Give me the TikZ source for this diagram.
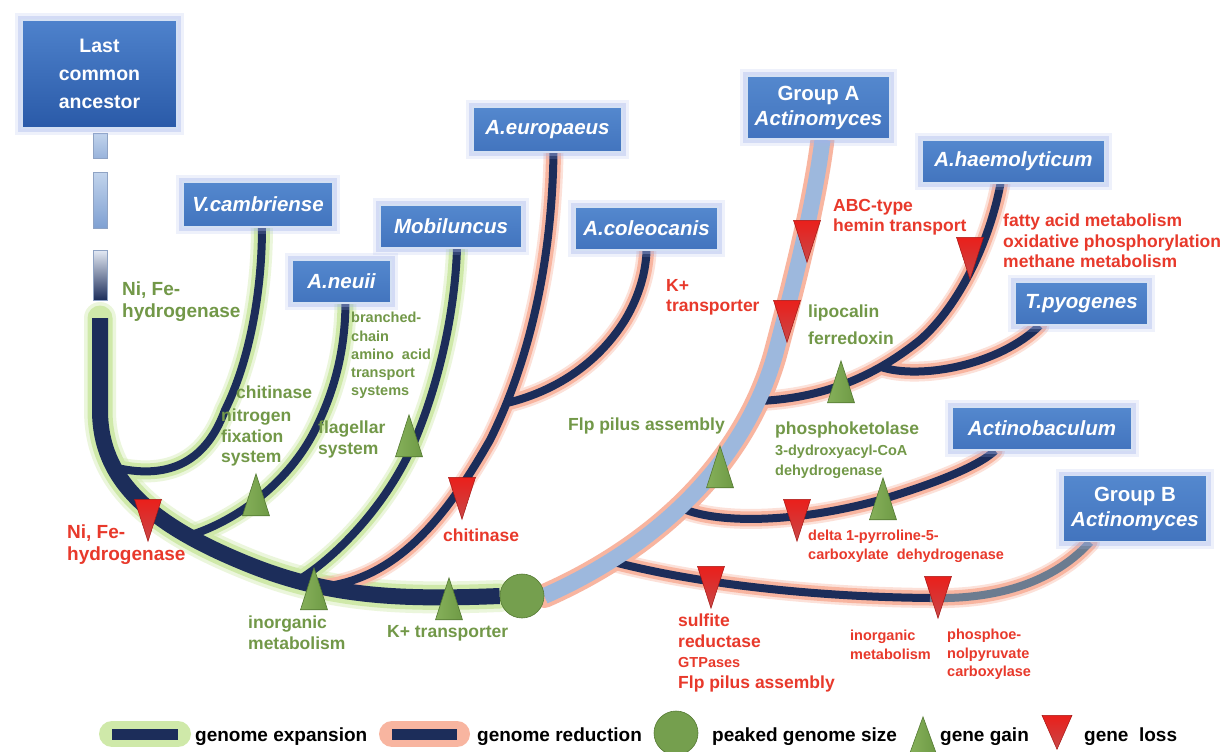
\documentclass[tikz,border=0pt]{standalone}
\usepackage{fontspec}
\setmainfont{Liberation Sans}
\usetikzlibrary{shapes.geometric}

\definecolor{trunkblue}{HTML}{1C2D5A}
\definecolor{slate}{HTML}{6C7C90}
\definecolor{glowgreen}{HTML}{CFE9A9}
\definecolor{glowred}{HTML}{F8B5A0}
\definecolor{grpAblue}{HTML}{9DB8DD}
\definecolor{boxtop}{HTML}{5488CE}
\definecolor{boxbot}{HTML}{4274BE}
\definecolor{boxedge}{HTML}{D4E0F3}
\definecolor{boxglow}{HTML}{A3B4EC}
\definecolor{lcatop}{HTML}{4E82CC}
\definecolor{lcabot}{HTML}{2A5AA8}
\definecolor{stemA}{HTML}{C2D4EC}
\definecolor{stemB}{HTML}{7FA0D2}
\definecolor{stemC}{HTML}{E4EAF4}
\definecolor{stemedge}{HTML}{8FA3C4}
\definecolor{gaingreen}{HTML}{6E9A45}
\definecolor{gainlight}{HTML}{86B05A}
\definecolor{gainedge}{HTML}{557A33}
\definecolor{lossred}{HTML}{EA1F1B}
\definecolor{losslow}{HTML}{C84848}
\definecolor{txtgreen}{HTML}{729848}
\definecolor{txtred}{HTML}{E8392B}

\pgfdeclarelayer{front}
\pgfsetlayers{main,front}

\newcommand{\boxfont}{\fontsize{20.5}{25}\selectfont\bfseries}
\newcommand{\labfont}{\fontsize{17.5}{20.5}\selectfont\bfseries}
\newcommand{\bigfont}{\fontsize{19}{22}\selectfont\bfseries}
\newcommand{\smfont}{\fontsize{14.5}{18.3}\selectfont\bfseries}

\begin{document}
\begin{tikzpicture}[x=1pt,y=-1pt]
\tikzstyle{taxon}=[rectangle, draw=boxedge, line width=1.2pt, top color=boxtop, bottom color=boxbot, text=white, font=\boxfont\itshape, align=center, minimum height=43pt, inner sep=1pt, preaction={draw=boxglow, line width=14pt, opacity=.18, rounded corners=3pt}, preaction={draw=boxglow, line width=8pt, opacity=.35}]
\tikzstyle{gain}=[isosceles triangle, shape border rotate=90, isosceles triangle stretches, minimum width=27pt, minimum height=42pt, inner sep=0pt, anchor=apex, draw=gainedge, line width=.6pt, left color=gainlight, right color=gaingreen]
\tikzstyle{loss}=[isosceles triangle, shape border rotate=-90, isosceles triangle stretches, minimum width=27pt, minimum height=42pt, inner sep=0pt, anchor=apex, draw=lossred!70!black, line width=.5pt, top color=lossred, bottom color=losslow]
\tikzstyle{peaked}=[circle, minimum size=44pt, inner sep=0pt, fill=gaingreen!95!white, draw=gainedge, line width=.6pt]
\tikzstyle{gtext}=[text=txtgreen, font=\labfont, align=left, anchor=north west, inner sep=0pt]
\tikzstyle{rtext}=[text=txtred, font=\labfont, align=left, anchor=north west, inner sep=0pt]
\tikzstyle{legtext}=[font=\bigfont, anchor=base west, inner sep=0pt]
\tikzstyle{gglow}=[draw=glowgreen, line cap=round]
\tikzstyle{rglow}=[draw=glowred, line cap=round]
\tikzstyle{stemseg}=[draw=stemedge, line width=.6pt]

\useasboundingbox (0,0) rectangle (1226,752);
\fill[white] (0,0) rectangle (1226,752);

% taxa
\begin{pgfonlayer}{front}
\node[taxon, font=\fontsize{19.5}{28}\selectfont\bfseries, top color=lcatop, bottom color=lcabot, minimum width=155pt, minimum height=108pt] (lca) at (99.5,74) {Last\\common\\ancestor};
\node[taxon, minimum width=150pt, minimum height=45pt] (vcam) at (258,204.5) {V.cambriense};
\node[taxon, minimum width=99pt] (neuii) at (341.5,281.5) {A.neuii};
\node[taxon, minimum width=142pt] (mobil) at (451,226.5) {Mobiluncus};
\node[taxon, minimum width=149pt, minimum height=45pt] (europ) at (547.5,129.5) {A.europaeus};
\node[taxon, minimum width=143pt] (coleo) at (646.5,228.5) {A.coleocanis};
\node[taxon, minimum width=143pt, minimum height=63pt] (grpA) at (818.5,107.5) {\upshape Group A\\Actinomyces};
\node[taxon, minimum width=183pt] (haemo) at (1013.5,161.5) {A.haemolyticum};
\node[taxon, minimum width=133pt] (tpyo) at (1081.5,303.5) {T.pyogenes};
\node[taxon, minimum width=180pt] (actb) at (1042,428.5) {Actinobaculum};
\node[taxon, minimum width=144pt, minimum height=66pt] (grpB) at (1135,508.5) {\upshape Group B\\Actinomyces};
\node[peaked] (peak) at (522,596) {};
\end{pgfonlayer}

% stem below the ancestor
\draw[stemseg, top color=stemA, bottom color=stemB!80!white] (93,133) rectangle (107,158);
\draw[stemseg, top color=stemA, bottom color=stemB] (93,172) rectangle (107,228);
\draw[stemseg, top color=stemC, bottom color=trunkblue] (93,250) rectangle (107,300);

\coordinate (trS) at (100,318);
\coordinate (jV) at (113,467);
\coordinate (jN) at (188,536);
\coordinate (jM) at (297,581);
\coordinate (jE) at (320,587);
\coordinate (jC) at (507,403);
\coordinate (jB) at (610,561);
\coordinate (jAb) at (681,508);
\coordinate (jH) at (759,401);
\coordinate (jT) at (881,367);
\coordinate (gbMid) at (930,598);

\def\pTrunk{(trS) -- (100,410) .. controls (100,480) and (150,525) .. (250,565) .. controls (330,597) and (400,600) .. (peak.west)}
\def\pVcam{(jV) .. controls (165,480) and (205,465) .. (225,410) .. controls (250,360) and (262,290) .. ([xshift=4pt]vcam.south)}
\def\pNeuii{(jN) .. controls (240,520) and (290,480) .. (315,430) .. controls (335,390) and (345,350) .. ([xshift=4pt]neuii.south)}
\def\pMobil{(jM) .. controls (340,555) and (390,500) .. (415,440) .. controls (440,380) and (455,310) .. ([xshift=6pt]mobil.south)}
\def\pEurop{(jE) .. controls (400,580) and (450,510) .. (490,440) .. controls (530,360) and (552,260) .. ([xshift=6pt]europ.south)}
\def\pColeo{(jC) .. controls (560,390) and (600,360) .. (625,320) .. controls (640,295) and (646,270) .. (coleo.south)}
\def\pGrpA{(peak.east) .. controls (660,545) and (745,460) .. (775,355) .. controls (795,280) and (815,200) .. ([xshift=4pt]grpA.south)}
\def\pHaemo{(jH) .. controls (830,398) and (880,372) .. (920,340) .. controls (960,305) and (990,240) .. ([xshift=-13pt]haemo.south)}
\def\pTpyo{(jT) .. controls (920,380) and (1000,365) .. ([xshift=-42pt]tpyo.south)}
\def\pActb{(jAb) .. controls (720,525) and (800,522) .. (880,500) .. controls (940,482) and (980,465) .. ([xshift=-47pt]actb.south)}
\def\pGrpBa{(jB) .. controls (700,585) and (820,597) .. (gbMid)}
\def\pGrpBb{(gbMid) .. controls (1010,600) and (1060,575) .. ([xshift=-45pt]grpB.south)}

% glows
\draw[gglow, line width=32pt, opacity=.4] \pTrunk;
\draw[gglow, line width=25pt] \pTrunk;
\draw[gglow, line width=22pt, opacity=.4] \pVcam \pNeuii \pMobil;
\draw[gglow, line width=16pt] \pVcam \pNeuii \pMobil;
\draw[rglow, line width=20pt, opacity=.4] \pEurop \pColeo \pHaemo \pTpyo \pActb \pGrpBa \pGrpBb;
\draw[rglow, line width=15pt] \pEurop \pColeo \pHaemo \pTpyo \pActb \pGrpBa \pGrpBb;
\draw[rglow, line width=24pt] \pGrpA;

% branches
\draw[trunkblue, line width=8pt] \pVcam \pNeuii \pMobil \pColeo \pEurop;
\draw[trunkblue, line width=16pt] \pTrunk;
\draw[trunkblue, line width=8pt] \pHaemo \pTpyo \pActb \pGrpBa;
\draw[slate, line width=8pt] \pGrpBb;
\draw[grpAblue, line width=16pt] \pGrpA;

% gene loss / gain
\node[loss] (lNiFe) at (148,542) {};
\node[loss] (lChit) at (462,520) {};
\node[loss] (lABC) at (807,263) {};
\node[loss] (lK) at (787,343) {};
\node[loss] (lFatty) at (970,280) {};
\node[loss] (lDelta) at (797,542) {};
\node[loss] (lSulf) at (711,609) {};
\node[loss] (lPhos) at (938,619) {};
\node[gain] (gNeuii) at (256,473) {};
\node[gain] (gMobil) at (409,414) {};
\node[gain] (gInorg) at (314,567) {};
\node[gain] (gK) at (449,577) {};
\node[gain] (gFlp) at (720,445) {};
\node[gain] (gLipo) at (841,360) {};
\node[gain] (gPhos) at (883,477) {};

% labels
\node[gtext, font=\bigfont] (tNiFeG) at (122,282) {Ni, Fe-\\hydrogenase};
\node[gtext] (tChitG) at (236,386) {chitinase};
\node[gtext] (tNitro) at (221,409) {nitrogen\\fixation\\system};
\node[gtext, font=\smfont] (tBranch) at (351,312) {branched-\\chain\\amino\ \ acid\\transport\\systems};
\node[gtext] (tFlag) at (318,421) {flagellar\\system};
\node[gtext] (tInorgG) at (248,616) {inorganic\\metabolism};
\node[gtext] (tKG) at (387,625) {K+ transporter};
\node[gtext] (tFlpG) at (568,418) {Flp pilus assembly};
\node[gtext, font=\fontsize{17.5}{27}\selectfont\bfseries] (tLipo) at (808,305) {lipocalin\\ferredoxin};
\node[gtext] (tPhosG) at (775,422) {phosphoketolase\\{\smfont 3-dydroxyacyl-CoA}\\{\smfont dehydrogenase}};

\node[rtext, font=\bigfont] (tNiFeR) at (67,525) {Ni, Fe-\\hydrogenase};
\node[rtext] (tChitR) at (443,529) {chitinase};
\node[rtext] (tKR) at (666,279) {K+\\transporter};
\node[rtext] (tABC) at (833,199) {ABC-type\\hemin transport};
\node[rtext] (tFatty) at (1003,214) {fatty acid metabolism\\oxidative phosphorylation\\methane metabolism};
\node[rtext, font=\smfont] (tDelta) at (808,530) {delta 1-pyrroline-5-\\carboxylate\ \ dehydrogenase};
\node[rtext] (tSulf) at (678,614) {sulfite\\reductase\\{\smfont GTPases}\\Flp pilus assembly};
\node[rtext, font=\smfont] (tInorgR) at (850,630) {inorganic\\metabolism};
\node[rtext, font=\smfont] (tPhosR) at (947,629) {phosphoe-\\nolpyruvate\\carboxylase};

% legend
\draw[gglow, line width=26pt] (112,734) -- (178,734);
\draw[trunkblue, line width=11pt] (112,734) -- (178,734);
\node[legtext] (lgExp) at (195,741) {genome expansion};
\draw[rglow, line width=26pt] (392,734) -- (457,734);
\draw[trunkblue, line width=11pt] (392,734) -- (457,734);
\node[legtext] (lgRed) at (477,741) {genome reduction};
\node[peaked] (lgPeak) at (676,733) {};
\node[legtext] (lgPeakT) at (712,741) {peaked genome size};
\node[gain, minimum width=26pt, minimum height=36pt] (lgGain) at (923,716) {};
\node[legtext] (lgGainT) at (940,741) {gene gain};
\node[loss, minimum width=30pt, minimum height=34pt] (lgLoss) at (1057,750) {};
\node[legtext] (lgLossT) at (1084,741) {gene\ \ loss};
\end{tikzpicture}
\end{document}
